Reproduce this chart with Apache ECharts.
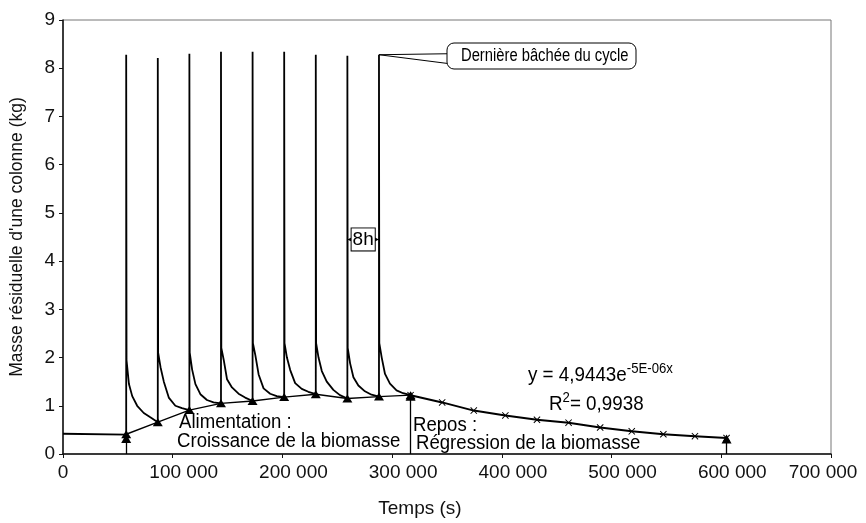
<!DOCTYPE html>
<html>
<head>
<meta charset="utf-8">
<script src="https://cdn.jsdelivr.net/npm/echarts@6/dist/echarts.min.js"></script>
<style>
  html, body { margin: 0; padding: 0; background: #fff; }
  #chart { width: 866px; height: 523px; }
</style>
</head>
<body>
<div id="chart"></div>
<script>
var FONT = "Liberation Sans";

// phase de départ (avant la première bâchée)
var startTime = [0, 57600];
var startMass = [0.42, 0.40];

// bâchées : instant, masse au pic
var cycleStart = [57600, 86400, 115200, 144000, 172800, 201600, 230400, 259200, 288000];
var peakMass = [8.28, 8.21, 8.30, 8.34, 8.34, 8.34, 8.28, 8.26, 8.28];

// ressuyage après chaque bâchée (décalage en s depuis la bâchée)
var decayOffset = [300, 2500, 5500, 10000, 16000, 22000];
var decayMass = [
    [1.95, 1.45, 1.20, 1.00, 0.85, 0.76],
    [2.10, 1.80, 1.50, 1.17, 1.00, 0.95],
    [2.10, 1.75, 1.45, 1.24, 1.12, 1.07],
    [2.20, 1.95, 1.55, 1.38, 1.25, 1.17],
    [2.30, 2.05, 1.65, 1.36, 1.25, 1.20],
    [2.30, 2.00, 1.74, 1.47, 1.35, 1.29],
    [2.30, 2.00, 1.72, 1.50, 1.33, 1.22],
    [2.20, 1.88, 1.59, 1.42, 1.30, 1.23],
    [2.30, 2.00, 1.66, 1.46, 1.32, 1.26]
];

// masse résiduelle avant chaque bâchée (triangles)
var feedTime = [57600, 86400, 115200, 144000, 172800, 201600, 230400, 259200, 288000, 316800];
var feedMass = [0.41, 0.66, 0.91, 1.05, 1.10, 1.18, 1.24, 1.15, 1.19, 1.22];

// repos (croix)
var restTime = [316800, 345600, 374400, 403200, 432000, 460800, 489600, 518400, 547200, 576000, 604800];
var restMass = [1.22, 1.07, 0.90, 0.80, 0.71, 0.65, 0.55, 0.47, 0.41, 0.37, 0.33];

// flèches verticales
var arrowTime = [57600, 316800, 604800];
var arrowTip = [0.32, 1.20, 0.31];

function pairs(xs, ys) {
    return xs.map(function (x, i) { return [x, ys[i]]; });
}

var measured = pairs(startTime, startMass);
cycleStart.forEach(function (t0, i) {
    measured.push([t0, feedMass[i]]);
    measured.push([t0, peakMass[i]]);
    decayOffset.forEach(function (dt, j) {
        measured.push([t0 + dt, decayMass[i][j]]);
    });
    measured.push([feedTime[i + 1], feedMass[i + 1]]);
});

function fmtThousands(v) {
    return String(v).replace(/\B(?=(\d{3})+(?!\d))/g, ' ');
}

var crossPath = 'path://M0,1L1,0L5,4L9,0L10,1L6,5L10,9L9,10L5,6L1,10L0,9L4,5Z';

// texte condensé (police étroite de l'original)
function note(x, y, text, size, sx, rich) {
    return {
        type: 'text', x: x, y: y, scaleX: sx, z: 11,
        style: {
            text: text, fontFamily: FONT, fontSize: size, fill: '#000',
            verticalAlign: 'middle', rich: rich || {}
        }
    };
}
var supRich = { s: { fontFamily: FONT, fontSize: 14, fill: '#000', padding: [0, 0, 12, 0] } };

var myChart = echarts.init(document.getElementById('chart'));

var option = {
    animation: false,
    backgroundColor: '#fff',
    grid: {
        left: 63,
        right: 35,
        top: 20,
        bottom: 68,
        show: true,
        borderColor: '#777',
        borderWidth: 1
    },
    xAxis: {
        type: 'value',
        min: 0,
        max: 700000,
        interval: 100000,
        name: 'Temps (s)',
        nameLocation: 'middle',
        nameGap: 45,
        nameTextStyle: { fontFamily: FONT, fontSize: 19, color: '#111', padding: [0, 54, 0, 0] },
        axisLine: { lineStyle: { color: '#111', width: 1.5 } },
        axisTick: { show: true, length: 4, lineStyle: { color: '#111' } },
        splitLine: { show: false },
        axisLabel: {
            margin: 9,
            color: '#111',
            fontFamily: FONT,
            fontSize: 19,
            formatter: function (v) {
                var s = fmtThousands(v);
                if (v === 0) return s;
                if (v === 700000) return '{e|' + s + '}';
                return '{n|' + s + '}';
            },
            rich: {
                n: { fontFamily: FONT, fontSize: 19, color: '#111', padding: [0, 0, 0, 22] },
                e: { fontFamily: FONT, fontSize: 19, color: '#111', padding: [0, 16, 0, 0] }
            }
        }
    },
    yAxis: {
        type: 'value',
        min: 0,
        max: 9,
        interval: 1,
        name: "Masse résiduelle d'une colonne (kg)",
        nameLocation: 'middle',
        nameGap: 37,
        nameTextStyle: { fontFamily: FONT, fontSize: 17.5, color: '#111' },
        axisLine: { show: true, lineStyle: { color: '#111', width: 1.5 } },
        axisTick: { show: true, length: 4, lineStyle: { color: '#111' } },
        splitLine: { show: false },
        axisLabel: { margin: 8, color: '#111', fontFamily: FONT, fontSize: 19 }
    },
    series: [
        {
            name: 'mesure',
            type: 'line',
            data: measured,
            showSymbol: false,
            symbol: 'none',
            lineStyle: { color: '#000', width: 1.8 },
            z: 3,
            markLine: {
                silent: true,
                symbol: ['none', 'none'],
                lineStyle: { color: '#000', width: 1, type: 'solid' },
                label: { show: false },
                data: [
                    [{ coord: [cycleStart[8], peakMass[8]] }, { coord: [350000, 8.30] }],
                    [{ coord: [cycleStart[8], peakMass[8]] }, { coord: [350000, 8.10] }]
                ]
            }
        },
        {
            name: 'alimentation',
            type: 'line',
            data: pairs(feedTime, feedMass),
            symbol: 'triangle',
            symbolSize: [10, 8],
            itemStyle: { color: '#000' },
            lineStyle: { color: '#000', width: 1.4 },
            z: 4,
            markLine: {
                silent: true,
                symbol: ['none', 'triangle'],
                symbolSize: [10, 9],
                lineStyle: { color: '#000', width: 1.3, type: 'solid' },
                label: { show: false },
                data: arrowTime.map(function (t, i) {
                    return [{ coord: [t, 0] }, { coord: [t, arrowTip[i]] }];
                })
            }
        },
        {
            name: 'repos',
            type: 'line',
            data: pairs(restTime, restMass),
            symbol: crossPath,
            symbolSize: 7,
            itemStyle: { color: '#000' },
            lineStyle: { color: '#000', width: 2 },
            z: 4,
            markLine: {
                silent: true,
                symbol: ['arrow', 'arrow'],
                symbolSize: [9, 12],
                lineStyle: { color: '#000', width: 1, type: 'solid' },
                label: {
                    show: true,
                    position: 'insideMiddle',
                    formatter: '8h',
                    fontFamily: FONT,
                    fontSize: 19,
                    color: '#000',
                    backgroundColor: '#fff',
                    borderColor: '#000',
                    borderWidth: 1,
                    padding: [2, 1, 1, 1]
                },
                data: [
                    [{ coord: [cycleStart[7], 4.45] }, { coord: [cycleStart[8], 4.45] }]
                ]
            }
        }
    ],
    graphic: [
        {
            type: 'rect',
            shape: { x: 447, y: 43, width: 189, height: 26, r: 7 },
            style: { fill: '#fff', stroke: '#000', lineWidth: 1 },
            z: 10
        },
        note(461, 56, 'Dernière bâchée du cycle', 18, 0.82),
        note(528, 375, 'y = 4,9443e{s|-5E-06x}', 20, 0.94, supRich),
        note(549, 404, 'R{s|2}= 0,9938', 20, 0.94, supRich),
        note(179, 422, 'Alimentation :', 20, 0.93),
        note(177, 441, 'Croissance de la biomasse', 20, 0.93),
        note(413, 425, 'Repos :', 20, 0.93),
        note(416, 443, 'Régression de la biomasse', 20, 0.93)
    ]
};

myChart.setOption(option);
</script>
</body>
</html>
